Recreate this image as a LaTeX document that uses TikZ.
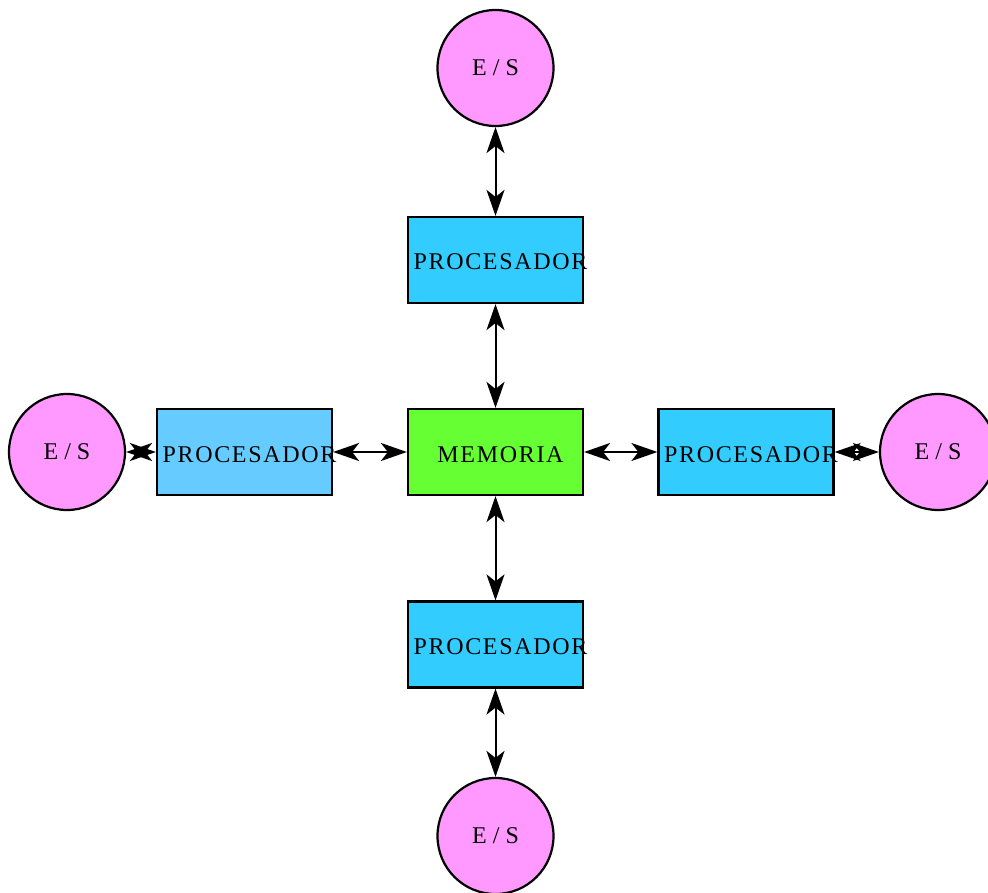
\documentclass[tikz,border=0pt]{standalone}
\usepackage{fontspec}
\setmainfont{Liberation Serif}
\usetikzlibrary{arrows.meta}
\definecolor{procblue}{HTML}{33CCFF}
\definecolor{proclight}{HTML}{66CCFF}
\definecolor{memgreen}{HTML}{66FF33}
\definecolor{iopink}{HTML}{FF99FF}
\newcommand{\boxtext}[1]{\makebox[175pt][c]{\hspace{10pt}#1}}
\tikzset{
  procbox/.style={draw=black, line width=2.2pt, fill=procblue, minimum width=175pt, minimum height=86pt, inner sep=0pt,
    text height=20pt, text depth=0pt,
    font=\fontsize{24}{28}\selectfont\addfontfeature{LetterSpace=7}},
  iocircle/.style={draw=black, line width=2.2pt, fill=iopink, circle, minimum size=116pt, inner sep=0pt,
    font=\fontsize{24}{28}\selectfont},
  link/.style={line width=2pt, {Stealth[length=26pt,width=18pt,inset=7pt]}-{Stealth[length=26pt,width=18pt,inset=7pt]}}
}
\begin{document}
\begin{tikzpicture}[x=1pt,y=-1pt]
\useasboundingbox (0,0) rectangle (988,893);
\node[procbox, fill=memgreen] (mem) at (495.5,452) {\boxtext{MEMORIA}};
\node[procbox] (pt) at (495.5,260) {\boxtext{PROCESADOR}};
\node[procbox] (pb) at (495.5,644.5) {\boxtext{PROCESADOR}};
\node[procbox, fill=proclight] (pl) at (244.5,452) {\boxtext{PROCESADOR}};
\node[procbox] (pr) at (746,452) {\boxtext{PROCESADOR}};
\node[iocircle] (et) at (495.5,68) {E / S};
\node[iocircle] (eb) at (495.5,836) {E / S};
\node[iocircle] (el) at (67,452) {E / S};
\node[iocircle] (er) at (938,452) {E / S};
\draw[link] (et) -- (pt);
\draw[link] (pt) -- (mem);
\draw[link] (mem) -- (pb);
\draw[link] (pb) -- (eb);
\draw[link] (el) -- (pl);
\draw[link] (pl) -- (mem);
\draw[link] (mem) -- (pr);
\draw[link] (pr) -- (er);
\end{tikzpicture}
\end{document}
